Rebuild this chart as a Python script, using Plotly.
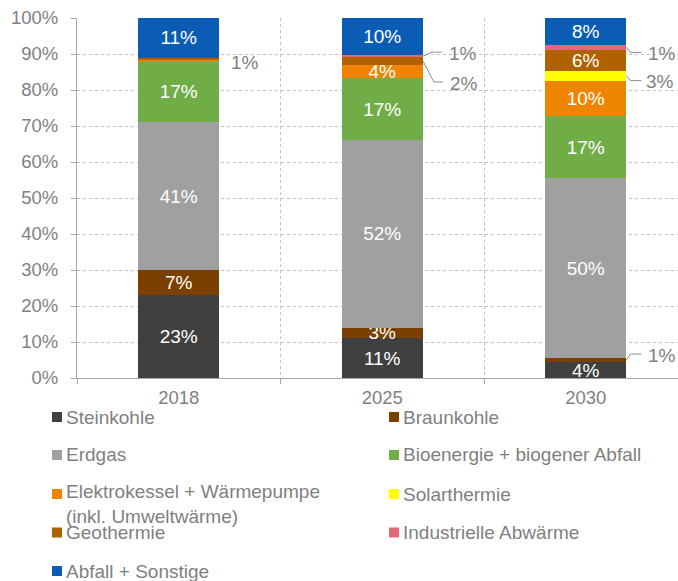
import plotly.graph_objects as go

# ---------------- data ----------------
years = ["2018", "2025", "2030"]

steinkohle = [23.1, 11.1, 4.4]
braunkohle = [7.0, 2.9, 1.2]
erdgas = [40.9, 52.1, 49.9]
bioenergie = [17.0, 17.2, 17.3]
elektro = [0.3, 3.7, 9.8]
solar = [0.0, 0.0, 2.8]
geothermie = [0.7, 2.1, 5.7]
industrie = [0.0, 0.6, 1.4]
abfall = [11.0, 10.3, 7.5]

steinkohle_lbl = ["23%", "11%", "4%"]
braunkohle_lbl = ["7%", "3%", ""]
erdgas_lbl = ["41%", "52%", "50%"]
bioenergie_lbl = ["17%", "17%", "17%"]
elektro_lbl = ["", "4%", "10%"]
solar_lbl = ["", "", ""]
geothermie_lbl = ["", "", "6%"]
industrie_lbl = ["", "", ""]
abfall_lbl = ["11%", "10%", "8%"]

y_tickvals = [0, 10, 20, 30, 40, 50, 60, 70, 80, 90, 100]
y_ticktext = ["0%", "10%", "20%", "30%", "40%", "50%", "60%", "70%", "80%", "90%", "100%"]

names = ["Steinkohle", "Braunkohle", "Erdgas", "Bioenergie + biogener Abfall",
         "Elektrokessel + Wärmepumpe<br>(inkl. Umweltwärme)", "Solarthermie",
         "Geothermie", "Industrielle Abwärme", "Abfall + Sonstige"]
values = [steinkohle, braunkohle, erdgas, bioenergie, elektro, solar,
          geothermie, industrie, abfall]
labels = [steinkohle_lbl, braunkohle_lbl, erdgas_lbl, bioenergie_lbl, elektro_lbl,
          solar_lbl, geothermie_lbl, industrie_lbl, abfall_lbl]
colors = ["#404040", "#7b3f00", "#a0a0a0", "#70ad47", "#ee8400", "#ffff00",
          "#b06200", "#e5687a", "#0b5cb5"]

# outside labels: (year index, series index, text)
outside_labels = [(0, 6, "1%"), (1, 7, "1%"), (1, 6, "2%"),
                  (2, 7, "1%"), (2, 5, "3%"), (2, 1, "1%")]

# ---------------- layout constants ----------------
W, H = 678, 581
ML, MR, MT, MB = 77, 0, 18, 203
PW, PH = W - ML - MR, H - MT - MB
XMIN, XMAX = -0.5, 2.4533
BAR_W = 0.4
FONT = "Liberation Sans, Arial, sans-serif"
GRAY = "#7f7f7f"
FS = 19
px_x = PW / (XMAX - XMIN)   # px per x unit
px_y = PH / 100.0           # px per %

# per outside label: text dx (px from bar edge), dy (px from seg mid, up +), elbow dx, end dx, leader
label_geom = [(10, -3, 0, 0, False), (24, 4, 9, 19, True), (25, -21, 11, 20, True),
              (20, -5, 4, 15, True), (18, -5, 4, 15, True), (20, 6, 4, 15, True)]

fig = go.Figure()
xs = [0, 1, 2]
for name, vals, lbl, col in zip(names, values, labels, colors):
    fig.add_trace(go.Bar(
        x=xs, y=vals, width=BAR_W, name=name, marker=dict(color=col, line=dict(width=0)),
        text=lbl, textposition="inside", insidetextanchor="middle", textangle=0,
        textfont=dict(color="white", size=FS, family=FONT), cliponaxis=False,
        showlegend=False, hoverinfo="skip"))

shapes = []
annotations = []

for (yi, si, txt), (tdx, dy, edx, endx, leader) in zip(outside_labels, label_geom):
    below = sum(values[k][yi] for k in range(si))
    mid = below + values[si][yi] / 2
    edge = xs[yi] + BAR_W / 2
    ty = mid + dy / px_y
    annotations.append(dict(x=edge + tdx / px_x, y=ty - 0.3, xref="x", yref="y", text=txt,
                            showarrow=False, xanchor="left", yanchor="middle",
                            font=dict(size=FS, color=GRAY, family=FONT)))
    if leader:
        path = (f"M {edge},{mid} L {edge + edx / px_x},{ty} L {edge + endx / px_x},{ty}")
        shapes.append(dict(type="path", path=path, xref="x", yref="y",
                           line=dict(color="#8c8c8c", width=1)))

# legend (manual, two columns)
def pxp(x):
    return (x - ML) / PW

def pyp(y):
    return (H - MB - y) / PH

leg_rows = [417, 455, 494, 532.5, 571]
leg_cols = [(52, 66), (389, 403)]
for i, (name, col) in enumerate(zip(names, colors)):
    r, c = divmod(i, 2)
    cy = leg_rows[r]
    mx, tx = leg_cols[c]
    shapes.append(dict(type="rect", xref="paper", yref="paper",
                       x0=pxp(mx), x1=pxp(mx + 10), y0=pyp(cy + 5), y1=pyp(cy - 5),
                       fillcolor=col, line=dict(width=0)))
    ty = cy + (10.5 if "<br>" in name else 0)
    annotations.append(dict(x=pxp(tx - 2), y=pyp(ty), xref="paper", yref="paper",
                            text=name, showarrow=False, xanchor="left", yanchor="middle",
                            align="left", font=dict(size=FS, color=GRAY, family=FONT)))

fig.update_layout(
    width=W, height=H, margin=dict(l=ML, r=MR, t=MT, b=MB, pad=0),
    barmode="stack", plot_bgcolor="white", paper_bgcolor="white",
    font=dict(family=FONT, size=FS, color=GRAY),
    uniformtext=dict(minsize=FS, mode="show"),
    shapes=shapes, annotations=annotations,
    xaxis=dict(range=[XMIN, XMAX], tickvals=xs, ticktext=years, showgrid=False,
               zeroline=False, showline=True, linecolor="#a6a6a6", linewidth=1,
               ticks="", tickfont=dict(size=18.5, color=GRAY), ticklabelstandoff=3,
               minor=dict(tick0=0.5, dtick=1, showgrid=True, griddash="dot",
                          gridcolor="#c0c0c0", gridwidth=1, ticks="outside",
                          ticklen=5, tickcolor="#a6a6a6")),
    yaxis=dict(range=[0, 100], tickvals=y_tickvals, ticktext=y_ticktext,
               showgrid=True, griddash="dot", gridcolor="#c0c0c0", gridwidth=1,
               zeroline=False, showline=True, linecolor="#a6a6a6", linewidth=1,
               ticks="outside", ticklen=5, tickcolor="#a6a6a6",
               ticklabelstandoff=9, tickfont=dict(size=18.5, color=GRAY)),
)

fig.write_html("out.html", config={"displayModeBar": False},
               post_script="document.body.style.margin='0px';document.body.style.overflow='hidden';")
